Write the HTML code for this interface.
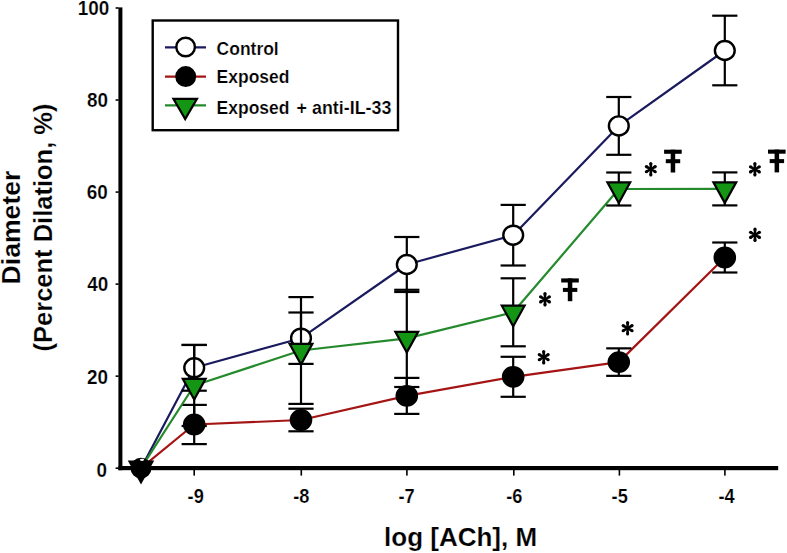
<!DOCTYPE html><html><head><meta charset="utf-8"><style>html,body{margin:0;padding:0;background:#fff;overflow:hidden;}svg{display:block;}text{font-family:"Liberation Sans",sans-serif;font-weight:bold;fill:#000;stroke:#fff;stroke-width:0.2px;}</style></head><body>
<svg width="787" height="553" viewBox="0 0 787 553">
<rect width="787" height="553" fill="#fff"/>
<polyline points="141,468.2 194.2,367.8 301,338.2 406.8,264.5 513.2,235.2 618.8,125.9 724.8,50.5" fill="none" stroke="#1a1a5e" stroke-width="2.2" stroke-linejoin="round"/><g stroke="#000" stroke-width="2.2"><line x1="194.2" y1="344.9" x2="194.2" y2="390.7"/><line x1="181.6" y1="344.9" x2="206.8" y2="344.9"/><line x1="181.6" y1="390.7" x2="206.8" y2="390.7"/><line x1="301" y1="312.5" x2="301" y2="363.9"/><line x1="288.4" y1="312.5" x2="313.6" y2="312.5"/><line x1="288.4" y1="363.9" x2="313.6" y2="363.9"/><line x1="406.8" y1="237" x2="406.8" y2="292"/><line x1="394.2" y1="237" x2="419.4" y2="237"/><line x1="394.2" y1="292" x2="419.4" y2="292"/><line x1="513.2" y1="204.9" x2="513.2" y2="265.5"/><line x1="500.6" y1="204.9" x2="525.8" y2="204.9"/><line x1="500.6" y1="265.5" x2="525.8" y2="265.5"/><line x1="618.8" y1="97" x2="618.8" y2="154.8"/><line x1="606.2" y1="97" x2="631.4" y2="97"/><line x1="606.2" y1="154.8" x2="631.4" y2="154.8"/><line x1="724.8" y1="15.7" x2="724.8" y2="85.3"/><line x1="712.2" y1="15.7" x2="737.4" y2="15.7"/><line x1="712.2" y1="85.3" x2="737.4" y2="85.3"/></g><ellipse cx="194.2" cy="367.8" rx="9.9" ry="9.5" fill="#fff" stroke="#000" stroke-width="2.4"/><ellipse cx="301" cy="338.2" rx="9.9" ry="9.5" fill="#fff" stroke="#000" stroke-width="2.4"/><ellipse cx="406.8" cy="264.5" rx="9.9" ry="9.5" fill="#fff" stroke="#000" stroke-width="2.4"/><ellipse cx="513.2" cy="235.2" rx="9.9" ry="9.5" fill="#fff" stroke="#000" stroke-width="2.4"/><ellipse cx="618.8" cy="125.9" rx="9.9" ry="9.5" fill="#fff" stroke="#000" stroke-width="2.4"/><ellipse cx="724.8" cy="50.5" rx="9.9" ry="9.5" fill="#fff" stroke="#000" stroke-width="2.4"/>
<polyline points="141,468.2 194.2,424.5 301,420 406.8,395.9 513.2,376.8 618.8,362.1 724.8,257.5" fill="none" stroke="#a51414" stroke-width="2.2" stroke-linejoin="round"/><g stroke="#000" stroke-width="2.2"><line x1="194.2" y1="404.9" x2="194.2" y2="444.1"/><line x1="181.6" y1="404.9" x2="206.8" y2="404.9"/><line x1="181.6" y1="444.1" x2="206.8" y2="444.1"/><line x1="301" y1="408.7" x2="301" y2="431.3"/><line x1="288.4" y1="408.7" x2="313.6" y2="408.7"/><line x1="288.4" y1="431.3" x2="313.6" y2="431.3"/><line x1="406.8" y1="377.9" x2="406.8" y2="413.9"/><line x1="394.2" y1="377.9" x2="419.4" y2="377.9"/><line x1="394.2" y1="413.9" x2="419.4" y2="413.9"/><line x1="513.2" y1="356.8" x2="513.2" y2="396.8"/><line x1="500.6" y1="356.8" x2="525.8" y2="356.8"/><line x1="500.6" y1="396.8" x2="525.8" y2="396.8"/><line x1="618.8" y1="348.35" x2="618.8" y2="375.85"/><line x1="606.2" y1="348.35" x2="631.4" y2="348.35"/><line x1="606.2" y1="375.85" x2="631.4" y2="375.85"/><line x1="724.8" y1="242.5" x2="724.8" y2="272.5"/><line x1="712.2" y1="242.5" x2="737.4" y2="242.5"/><line x1="712.2" y1="272.5" x2="737.4" y2="272.5"/></g><ellipse cx="194.2" cy="424.5" rx="10.1" ry="9.7" fill="#000" stroke="#000" stroke-width="2.4"/><ellipse cx="301" cy="420" rx="10.1" ry="9.7" fill="#000" stroke="#000" stroke-width="2.4"/><ellipse cx="406.8" cy="395.9" rx="10.1" ry="9.7" fill="#000" stroke="#000" stroke-width="2.4"/><ellipse cx="513.2" cy="376.8" rx="10.1" ry="9.7" fill="#000" stroke="#000" stroke-width="2.4"/><ellipse cx="618.8" cy="362.1" rx="10.1" ry="9.7" fill="#000" stroke="#000" stroke-width="2.4"/><ellipse cx="724.8" cy="257.5" rx="10.1" ry="9.7" fill="#000" stroke="#000" stroke-width="2.4"/>
<polyline points="141,468.2 194.2,385.5 301,350.5 406.8,338.4 513.2,312.3 618.8,189 724.8,188.9" fill="none" stroke="#248a2c" stroke-width="2.2" stroke-linejoin="round"/><g stroke="#000" stroke-width="2.2"><line x1="194.2" y1="345" x2="194.2" y2="426"/><line x1="181.6" y1="345" x2="206.8" y2="345"/><line x1="181.6" y1="426" x2="206.8" y2="426"/><line x1="301" y1="297.1" x2="301" y2="403.9"/><line x1="288.4" y1="297.1" x2="313.6" y2="297.1"/><line x1="288.4" y1="403.9" x2="313.6" y2="403.9"/><line x1="406.8" y1="289.8" x2="406.8" y2="387"/><line x1="394.2" y1="289.8" x2="419.4" y2="289.8"/><line x1="394.2" y1="387" x2="419.4" y2="387"/><line x1="513.2" y1="278.3" x2="513.2" y2="346.3"/><line x1="500.6" y1="278.3" x2="525.8" y2="278.3"/><line x1="500.6" y1="346.3" x2="525.8" y2="346.3"/><line x1="618.8" y1="172.5" x2="618.8" y2="205.5"/><line x1="606.2" y1="172.5" x2="631.4" y2="172.5"/><line x1="606.2" y1="205.5" x2="631.4" y2="205.5"/><line x1="724.8" y1="172.4" x2="724.8" y2="205.4"/><line x1="712.2" y1="172.4" x2="737.4" y2="172.4"/><line x1="712.2" y1="205.4" x2="737.4" y2="205.4"/></g><path d="M182.8 378.88L205.6 378.88L194.2 399.48Z" fill="#149614" stroke="#000" stroke-width="2.2" stroke-linejoin="miter"/><path d="M289.6 343.88L312.4 343.88L301 364.48Z" fill="#149614" stroke="#000" stroke-width="2.2" stroke-linejoin="miter"/><path d="M395.4 331.78L418.2 331.78L406.8 352.38Z" fill="#149614" stroke="#000" stroke-width="2.2" stroke-linejoin="miter"/><path d="M501.8 305.68L524.6 305.68L513.2 326.28Z" fill="#149614" stroke="#000" stroke-width="2.2" stroke-linejoin="miter"/><path d="M607.4 182.38L630.2 182.38L618.8 202.98Z" fill="#149614" stroke="#000" stroke-width="2.2" stroke-linejoin="miter"/><path d="M713.4 182.28L736.2 182.28L724.8 202.88Z" fill="#149614" stroke="#000" stroke-width="2.2" stroke-linejoin="miter"/>
<circle cx="141" cy="468.2" r="9.3" fill="#000" stroke="#000" stroke-width="2.4"/>
<path d="M129.6 461.58L152.4 461.58L141 482.18Z" fill="#000" stroke="#000" stroke-width="2.2" stroke-linejoin="miter"/>
<ellipse cx="142" cy="459.8" rx="2.2" ry="1.1" fill="#fff"/>
<g fill="#000">
<rect x="118.4" y="7.4" width="4.0" height="462.8"/>
<rect x="118.4" y="466.0" width="659.8" height="4.2"/>
<rect x="115.6" y="467.4" width="3" height="1.6"/>
<rect x="115.6" y="375.36" width="3" height="1.6"/>
<rect x="115.6" y="283.32" width="3" height="1.6"/>
<rect x="115.6" y="191.28" width="3" height="1.6"/>
<rect x="115.6" y="99.24" width="3" height="1.6"/>
<rect x="115.6" y="7.2" width="3" height="1.6"/>
<rect x="193.4" y="470" width="1.6" height="5.6"/>
<rect x="300.5" y="470" width="1.6" height="5.6"/>
<rect x="406.1" y="470" width="1.6" height="5.6"/>
<rect x="513" y="470" width="1.6" height="5.6"/>
<rect x="618.6" y="470" width="1.6" height="5.6"/>
<rect x="724.1" y="470" width="1.6" height="5.6"/>
</g>
<text transform="translate(107.05,476.55) scale(0.9,1)" font-size="21" text-anchor="end">0</text>
<text transform="translate(108.05,384.41) scale(0.9,1)" font-size="21" text-anchor="end">20</text>
<text transform="translate(108.35,291.37) scale(0.9,1)" font-size="21" text-anchor="end">40</text>
<text transform="translate(107.8,199.48) scale(0.9,1)" font-size="21" text-anchor="end">60</text>
<text transform="translate(108,107.09) scale(0.9,1)" font-size="21" text-anchor="end">80</text>
<text transform="translate(109.25,15.35) scale(0.9,1)" font-size="21" text-anchor="end">100</text>
<text transform="translate(195.7,502.6) scale(0.91,1)" font-size="20" text-anchor="middle">-9</text>
<text transform="translate(301.3,502.6) scale(0.91,1)" font-size="20" text-anchor="middle">-8</text>
<text transform="translate(406.55,502.6) scale(0.91,1)" font-size="20" text-anchor="middle">-7</text>
<text transform="translate(514.4,502.6) scale(0.91,1)" font-size="20" text-anchor="middle">-6</text>
<text transform="translate(619.7,502.6) scale(0.91,1)" font-size="20" text-anchor="middle">-5</text>
<text transform="translate(726.5,502.6) scale(0.91,1)" font-size="20" text-anchor="middle">-4</text>
<text x="460.6" y="546.2" font-size="26" text-anchor="middle">log [ACh], M</text>
<text transform="translate(20.1,227.5) rotate(-90)" font-size="26.6" text-anchor="middle">Diameter</text>
<text transform="translate(51.9,227.5) rotate(-90)" font-size="25.5" text-anchor="middle">(Percent Dilation, %)</text>
<rect x="152.7" y="20.5" width="245.3" height="109.7" fill="#fff" stroke="#000" stroke-width="2.4"/>
<line x1="165" y1="47.3" x2="206" y2="47.3" stroke="#1a1a5e" stroke-width="2.2"/>
<circle cx="185.6" cy="47" r="9.3" fill="#fff" stroke="#000" stroke-width="2.4"/>
<line x1="165" y1="76.6" x2="206" y2="76.6" stroke="#a51414" stroke-width="2.2"/>
<circle cx="185.7" cy="76.6" r="9.3" fill="#000" stroke="#000" stroke-width="2.4"/>
<line x1="165" y1="105.4" x2="206" y2="105.4" stroke="#248a2c" stroke-width="2.2"/>
<path d="M173.45 98.92L196.95 98.92L185.2 119.12Z" fill="#149614" stroke="#000" stroke-width="2.2" stroke-linejoin="miter"/>
<text transform="translate(216.6,54.6) scale(0.93,1)" font-size="18.8">Control</text>
<text transform="translate(216.6,83.3) scale(0.93,1)" font-size="18.8">Exposed</text>
<text transform="translate(216.6,113.5) scale(0.93,1)" font-size="18.8">Exposed</text>
<text transform="translate(296.6,113.5) scale(0.95,1)" font-size="18.8">+ anti-IL-33</text>
<g fill="#000"><path d="M546 299.3L546.55 293.55L543.45 293.55L544 299.3Z"/><circle cx="545" cy="293.55" r="1.55"/><path d="M544 299.3L543.45 305.05L546.55 305.05L546 299.3Z"/><circle cx="545" cy="305.05" r="1.55"/><path d="M545.5 300.17L550.24 298.07L548.69 295.38L544.5 298.43Z"/><circle cx="549.46" cy="296.73" r="1.55"/><path d="M545.5 298.43L541.31 295.38L539.76 298.07L544.5 300.17Z"/><circle cx="540.54" cy="296.73" r="1.55"/><path d="M544.5 298.43L539.76 300.53L541.31 303.22L545.5 300.17Z"/><circle cx="540.54" cy="301.88" r="1.55"/><path d="M544.5 300.17L548.69 303.22L550.24 300.53L545.5 298.43Z"/><circle cx="549.46" cy="301.88" r="1.55"/></g>
<g fill="#000"><path d="M544.7 357.2L545.25 351.45L542.15 351.45L542.7 357.2Z"/><circle cx="543.7" cy="351.45" r="1.55"/><path d="M542.7 357.2L542.15 362.95L545.25 362.95L544.7 357.2Z"/><circle cx="543.7" cy="362.95" r="1.55"/><path d="M544.2 358.07L548.94 355.97L547.39 353.28L543.2 356.33Z"/><circle cx="548.16" cy="354.62" r="1.55"/><path d="M544.2 356.33L540.01 353.28L538.46 355.97L543.2 358.07Z"/><circle cx="539.24" cy="354.62" r="1.55"/><path d="M543.2 356.33L538.46 358.43L540.01 361.12L544.2 358.07Z"/><circle cx="539.24" cy="359.77" r="1.55"/><path d="M543.2 358.07L547.39 361.12L548.94 358.43L544.2 356.33Z"/><circle cx="548.16" cy="359.77" r="1.55"/></g>
<g fill="#000"><path d="M651.8 169.2L652.35 163.45L649.25 163.45L649.8 169.2Z"/><circle cx="650.8" cy="163.45" r="1.55"/><path d="M649.8 169.2L649.25 174.95L652.35 174.95L651.8 169.2Z"/><circle cx="650.8" cy="174.95" r="1.55"/><path d="M651.3 170.07L656.04 167.97L654.49 165.28L650.3 168.33Z"/><circle cx="655.26" cy="166.62" r="1.55"/><path d="M651.3 168.33L647.11 165.28L645.56 167.97L650.3 170.07Z"/><circle cx="646.34" cy="166.62" r="1.55"/><path d="M650.3 168.33L645.56 170.43L647.11 173.12L651.3 170.07Z"/><circle cx="646.34" cy="171.77" r="1.55"/><path d="M650.3 170.07L654.49 173.12L656.04 170.43L651.3 168.33Z"/><circle cx="655.26" cy="171.77" r="1.55"/></g>
<g fill="#000"><path d="M628.6 328.2L629.15 322.45L626.05 322.45L626.6 328.2Z"/><circle cx="627.6" cy="322.45" r="1.55"/><path d="M626.6 328.2L626.05 333.95L629.15 333.95L628.6 328.2Z"/><circle cx="627.6" cy="333.95" r="1.55"/><path d="M628.1 329.07L632.84 326.97L631.29 324.28L627.1 327.33Z"/><circle cx="632.06" cy="325.62" r="1.55"/><path d="M628.1 327.33L623.91 324.28L622.36 326.97L627.1 329.07Z"/><circle cx="623.14" cy="325.62" r="1.55"/><path d="M627.1 327.33L622.36 329.43L623.91 332.12L628.1 329.07Z"/><circle cx="623.14" cy="330.77" r="1.55"/><path d="M627.1 329.07L631.29 332.12L632.84 329.43L628.1 327.33Z"/><circle cx="632.06" cy="330.77" r="1.55"/></g>
<g fill="#000"><path d="M755.9 169.3L756.45 163.55L753.35 163.55L753.9 169.3Z"/><circle cx="754.9" cy="163.55" r="1.55"/><path d="M753.9 169.3L753.35 175.05L756.45 175.05L755.9 169.3Z"/><circle cx="754.9" cy="175.05" r="1.55"/><path d="M755.4 170.17L760.14 168.07L758.59 165.38L754.4 168.43Z"/><circle cx="759.36" cy="166.73" r="1.55"/><path d="M755.4 168.43L751.21 165.38L749.66 168.07L754.4 170.17Z"/><circle cx="750.44" cy="166.73" r="1.55"/><path d="M754.4 168.43L749.66 170.53L751.21 173.22L755.4 170.17Z"/><circle cx="750.44" cy="171.88" r="1.55"/><path d="M754.4 170.17L758.59 173.22L760.14 170.53L755.4 168.43Z"/><circle cx="759.36" cy="171.88" r="1.55"/></g>
<g fill="#000"><path d="M756 234.8L756.55 229.05L753.45 229.05L754 234.8Z"/><circle cx="755" cy="229.05" r="1.55"/><path d="M754 234.8L753.45 240.55L756.55 240.55L756 234.8Z"/><circle cx="755" cy="240.55" r="1.55"/><path d="M755.5 235.67L760.24 233.57L758.69 230.88L754.5 233.93Z"/><circle cx="759.46" cy="232.23" r="1.55"/><path d="M755.5 233.93L751.31 230.88L749.76 233.57L754.5 235.67Z"/><circle cx="750.54" cy="232.23" r="1.55"/><path d="M754.5 233.93L749.76 236.03L751.31 238.72L755.5 235.67Z"/><circle cx="750.54" cy="237.38" r="1.55"/><path d="M754.5 235.67L758.69 238.72L760.24 236.03L755.5 233.93Z"/><circle cx="759.46" cy="237.38" r="1.55"/></g>
<g fill="#000"><rect x="561.2" y="278.4" width="17.6" height="4.1"/><rect x="562.9" y="287.9" width="14.4" height="4.0"/><rect x="567.8" y="278.4" width="4.5" height="22.8"/></g>
<g fill="#000"><rect x="664.1" y="149.7" width="17.6" height="4.1"/><rect x="665.8" y="159.2" width="14.4" height="4.0"/><rect x="670.7" y="149.7" width="4.5" height="22.8"/></g>
<g fill="#000"><rect x="768" y="149.6" width="17.6" height="4.1"/><rect x="769.7" y="159.1" width="14.4" height="4.0"/><rect x="774.6" y="149.6" width="4.5" height="22.8"/></g>
</svg></body></html>
